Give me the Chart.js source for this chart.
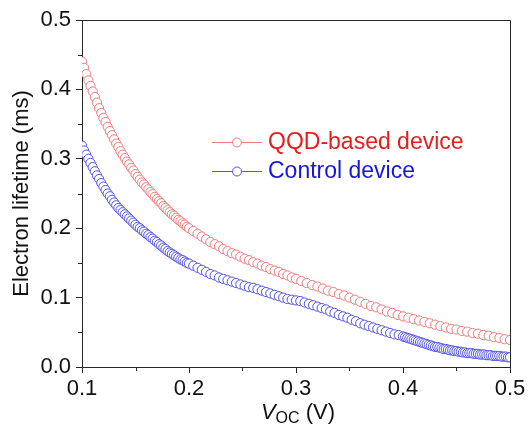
<!DOCTYPE html>
<html>
<head>
<meta charset="utf-8">
<script src="https://cdn.jsdelivr.net/npm/chart.js@4.4.1/dist/chart.umd.min.js"></script>
<style>
html,body{margin:0;padding:0;background:#fff;}
#wrap{width:529px;height:434px;}
</style>
</head>
<body>
<div id="wrap"><canvas id="c" width="529" height="434"></canvas></div>
<script>
// ---- data ----
const seriesNames = ["QQD-based device", "Control device"];
const qqdV = [
0.100,0.102,0.104,0.106,0.108,0.110,0.112,0.114,0.116,0.118,0.120,0.122,0.124,0.126,0.128,0.130,0.132,0.134,0.136,0.138,
0.140,0.142,0.144,0.146,0.148,0.150,0.152,0.154,0.156,0.158,0.160,0.162,0.164,0.166,0.168,0.170,0.172,0.174,0.176,0.178,
0.180,0.182,0.184,0.186,0.188,0.190,0.192,0.194,0.196,0.198,0.200,
0.204,0.208,0.212,0.216,0.220,0.224,0.228,0.232,0.236,0.240,0.244,0.248,0.252,0.256,0.260,0.264,0.268,0.272,0.276,0.280,
0.284,0.288,0.292,0.296,0.300,
0.305,0.310,0.315,0.320,0.325,0.330,0.335,0.340,0.345,0.350,0.355,0.360,0.365,0.370,0.375,0.380,0.385,0.390,0.395,0.400,
0.405,0.410,0.415,0.420,0.425,0.430,0.435,0.440,0.445,0.450,0.455,0.460,0.465,0.470,0.475,0.480,0.485,0.490,0.495,0.500];
const qqdTau = [
0.440,0.431,0.422,0.413,0.405,0.397,0.389,0.381,0.373,0.366,0.359,0.353,0.346,0.340,0.334,0.328,0.322,0.317,0.311,0.306,
0.301,0.296,0.292,0.287,0.283,0.278,0.274,0.270,0.266,0.263,0.259,0.256,0.252,0.249,0.245,0.242,0.239,0.236,0.232,0.229,
0.226,0.223,0.220,0.218,0.215,0.212,0.210,0.207,0.205,0.202,0.200,
0.196,0.192,0.188,0.184,0.180,0.177,0.174,0.170,0.167,0.164,0.162,0.159,0.156,0.154,0.151,0.149,0.146,0.144,0.141,0.139,
0.137,0.134,0.132,0.129,0.127,
0.124,0.121,0.118,0.116,0.113,0.110,0.108,0.105,0.103,0.100,0.097,0.094,0.091,0.088,0.086,0.083,0.080,0.078,0.075,0.073,
0.071,0.069,0.067,0.065,0.063,0.061,0.059,0.057,0.055,0.054,0.052,0.051,0.049,0.048,0.046,0.045,0.043,0.042,0.040,0.039];
const ctrlV = [
0.100,0.102,0.104,0.106,0.108,0.110,0.112,0.114,0.116,0.118,0.120,0.122,0.124,0.126,0.128,0.130,0.132,0.134,0.136,0.138,
0.140,0.142,0.144,0.146,0.148,0.150,0.152,0.154,0.156,0.158,0.160,0.162,0.164,0.166,0.168,0.170,0.172,0.174,0.176,0.178,
0.180,0.182,0.184,0.186,0.188,0.190,0.192,0.194,0.196,0.198,0.200,
0.204,0.208,0.212,0.216,0.220,0.224,0.228,0.232,0.236,0.240,0.244,0.248,0.252,0.256,0.260,0.264,0.268,0.272,0.276,0.280,
0.284,0.288,0.292,0.296,0.300,0.304,0.308,0.312,0.316,0.320,0.324,0.328,0.332,0.336,0.340,0.344,0.348,0.352,0.356,0.360,
0.364,0.368,0.372,0.376,0.380,0.384,0.388,0.392,0.396,0.400,
0.402,0.404,0.406,0.408,0.410,0.412,0.414,0.416,0.418,0.420,0.422,0.424,0.426,0.428,0.430,0.432,0.434,0.436,0.438,0.440,
0.442,0.444,0.446,0.448,0.450,0.452,0.454,0.456,0.458,0.460,0.462,0.464,0.466,0.468,0.470,0.472,0.474,0.476,0.478,0.480,
0.482,0.484,0.486,0.488,0.490,0.492,0.494,0.496,0.498,0.500];
const ctrlTau = [
0.319,0.312,0.306,0.300,0.294,0.288,0.282,0.276,0.271,0.265,0.260,0.255,0.250,0.246,0.241,0.237,0.233,0.229,0.226,0.223,
0.220,0.217,0.214,0.211,0.208,0.205,0.202,0.200,0.197,0.195,0.192,0.190,0.187,0.185,0.182,0.180,0.177,0.175,0.172,0.170,
0.167,0.165,0.163,0.161,0.159,0.157,0.155,0.154,0.152,0.150,0.149,
0.146,0.143,0.140,0.137,0.134,0.132,0.129,0.127,0.125,0.123,0.121,0.119,0.117,0.115,0.114,0.112,0.110,0.108,0.106,0.104,
0.102,0.100,0.098,0.097,0.096,0.095,0.093,0.091,0.089,0.087,0.085,0.083,0.080,0.078,0.075,0.073,0.071,0.068,0.066,0.063,
0.061,0.059,0.057,0.055,0.053,0.051,0.049,0.047,0.046,0.044,
0.043,0.042,0.041,0.040,0.039,0.038,0.037,0.036,0.035,0.034,0.033,0.032,0.031,0.030,0.029,0.029,0.028,0.027,0.026,0.026,
0.025,0.024,0.024,0.023,0.023,0.022,0.022,0.021,0.021,0.020,0.020,0.020,0.019,0.019,0.019,0.018,0.018,0.018,0.017,0.017,
0.017,0.016,0.016,0.016,0.016,0.015,0.015,0.015,0.014,0.014];
const xTicks = [0.1, 0.2, 0.3, 0.4, 0.5];
const xMinor = [0.15, 0.25, 0.35, 0.45];
const yTicks = [0.0, 0.1, 0.2, 0.3, 0.4, 0.5];
const yMinor = [0.05, 0.15, 0.25, 0.35, 0.45];

// ---- styles ----
const FONT = '"Liberation Sans", Arial, sans-serif';
const redPt = '#f07a7a', bluePt = '#5252e4';
const redTxt = '#e81c1c', blueTxt = '#1616e0';
const axisCol = '#262626';

function toPts(xs, ys){ return xs.map((x,i)=>({x:x, y:ys[i]})); }

const extras = {
  id: 'extras',
  afterDraw(chart){
    const ctx = chart.ctx, a = chart.chartArea;
    const xs = chart.scales.x, ys = chart.scales.y;
    ctx.save();
    // frame top/right
    ctx.strokeStyle = axisCol; ctx.lineWidth = 1;
    ctx.beginPath();
    ctx.moveTo(a.left, a.top+0.5); ctx.lineTo(a.right+0.5, a.top+0.5); ctx.lineTo(a.right+0.5, a.bottom);
    ctx.stroke();
    // minor ticks
    ctx.beginPath();
    xMinor.forEach(v=>{ const p = Math.round(xs.getPixelForValue(v))+0.5; ctx.moveTo(p, a.bottom); ctx.lineTo(p, a.bottom+4); });
    yMinor.forEach(v=>{ const p = Math.round(ys.getPixelForValue(v))+0.5; ctx.moveTo(a.left, p); ctx.lineTo(a.left-4, p); });
    ctx.stroke();
    // y title
    ctx.fillStyle = '#111';
    ctx.font = '22px ' + FONT;
    ctx.textAlign = 'center'; ctx.textBaseline = 'middle';
    ctx.save();
    ctx.translate(22, (a.top + a.bottom)/2);
    ctx.rotate(-Math.PI/2);
    ctx.fillText('Electron lifetime (ms)', 0, 0);
    ctx.restore();
    // x title: V_OC (V)
    ctx.textAlign = 'left'; ctx.textBaseline = 'alphabetic';
    const base = 419;
    ctx.font = 'italic 22px ' + FONT;
    const w1 = ctx.measureText('V').width;
    ctx.font = '16px ' + FONT;
    const w2 = ctx.measureText('OC').width;
    ctx.font = '22px ' + FONT;
    const w3 = ctx.measureText(' (V)').width;
    let x0 = (a.left + a.right)/2 - (w1+w2+w3)/2 + 2;
    ctx.font = 'italic 22px ' + FONT; ctx.fillText('V', x0, base); x0 += w1;
    ctx.font = '16px ' + FONT; ctx.fillText('OC', x0, base+4); x0 += w2;
    ctx.font = '22px ' + FONT; ctx.fillText(' (V)', x0, base);
    // legend
    const items = [
      {name: seriesNames[0], line: redPt, txt: redTxt, y: 142},
      {name: seriesNames[1], line: bluePt, txt: blueTxt, y: 171}
    ];
    items.forEach(it=>{
      ctx.strokeStyle = it.line; ctx.lineWidth = 1;
      ctx.beginPath(); ctx.moveTo(212, it.y+0.5); ctx.lineTo(262, it.y+0.5); ctx.stroke();
      ctx.beginPath(); ctx.arc(237, it.y+0.5, 4.5, 0, Math.PI*2);
      ctx.fillStyle = '#fff'; ctx.fill(); ctx.stroke();
      ctx.fillStyle = it.txt; ctx.font = '23px ' + FONT;
      ctx.textBaseline = 'middle';
      ctx.fillText(it.name, 268, it.y+1);
    });
    ctx.restore();
  }
};

new Chart(document.getElementById('c'), {
  type: 'scatter',
  data: {
    datasets: [
      { label: seriesNames[0], data: toPts(qqdV, qqdTau), showLine: false,
        pointRadius: 4.6, pointBorderWidth: 1, pointBorderColor: redPt, pointBackgroundColor: '#fff' },
      { label: seriesNames[1], data: toPts(ctrlV, ctrlTau), showLine: false,
        pointRadius: 4.6, pointBorderWidth: 1, pointBorderColor: bluePt, pointBackgroundColor: '#fff' }
    ]
  },
  options: {
    responsive: false,
    animation: false,
    events: [],
    layout: { padding: { top: 20, right: 19, left: 0, bottom: 0 } },
    plugins: { legend: { display: false }, tooltip: { enabled: false } },
    scales: {
      x: {
        type: 'linear', min: 0.1, max: 0.5,
        afterBuildTicks(s){ s.ticks = xTicks.map(v=>({value:v})); },
        afterFit(s){ s.height = 67; },
        ticks: { padding: 3, color: '#111', font: { family: FONT, size: 22 },
                 callback: v => v.toFixed(1), maxRotation: 0, autoSkip: false },
        grid: { display: true, drawOnChartArea: false, drawTicks: true, tickLength: 6, color: axisCol },
        border: { display: true, color: axisCol, width: 1 }
      },
      y: {
        type: 'linear', min: 0.0, max: 0.5,
        afterBuildTicks(s){ s.ticks = yTicks.map(v=>({value:v})); },
        afterFit(s){ s.width = 82; },
        ticks: { padding: 5, color: '#111', font: { family: FONT, size: 22 },
                 callback: v => v.toFixed(1), autoSkip: false },
        grid: { display: true, drawOnChartArea: false, drawTicks: true, tickLength: 6, color: axisCol },
        border: { display: true, color: axisCol, width: 1 }
      }
    }
  },
  plugins: [extras]
});
</script>
</body>
</html>
